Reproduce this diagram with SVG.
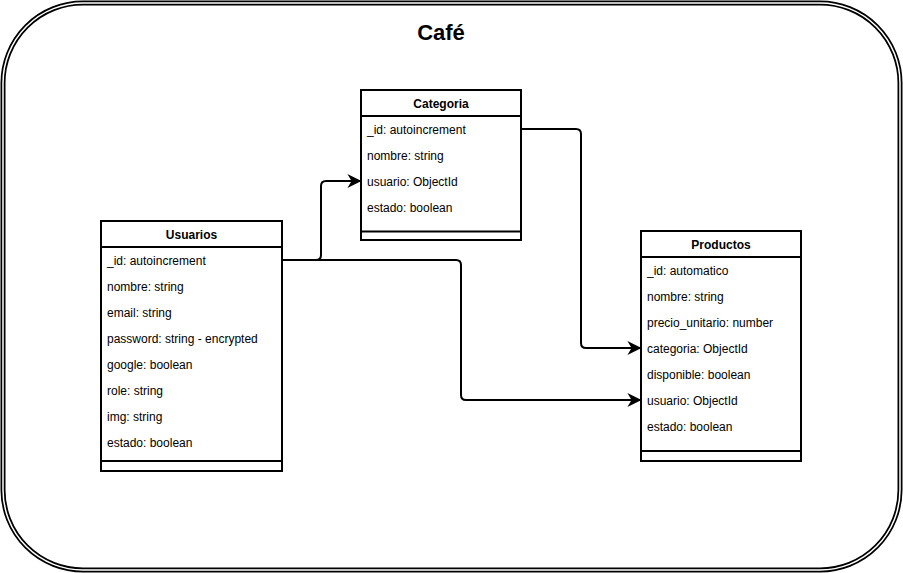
<svg xmlns="http://www.w3.org/2000/svg" width="903" height="573" viewBox="0 0 903 573">
<style>
.box{fill:#fff;stroke:#000;stroke-width:2}
.ln{stroke:#000;stroke-width:2;fill:none}
.hd{font-family:"Liberation Sans",Arial,sans-serif;font-size:12px;font-weight:bold;fill:#000;text-anchor:middle}
.fd{font-family:"Liberation Sans",Arial,sans-serif;font-size:12px;fill:#000}
.cn{stroke:#000;stroke-width:2;fill:none;marker-end:url(#arr)}
</style>
<defs>
<marker id="arr" viewBox="0 0 10 10" refX="9" refY="5" markerWidth="7" markerHeight="7" markerUnits="strokeWidth" orient="auto">
<path d="M0,0 L10,5 L0,10 L3,5 Z" fill="#000"/>
</marker>
</defs>
<rect width="903" height="573" fill="#fff"/>
<g id="frame">
<rect x="3" y="3" width="897" height="567" rx="80" ry="80" fill="none" stroke="#000" stroke-width="5"/>
<rect x="3" y="3" width="897" height="567" rx="80" ry="80" fill="none" stroke="#fff" stroke-width="1.5"/>
<text x="441" y="40" font-family="Liberation Sans,Arial,sans-serif" font-size="22" font-weight="bold" text-anchor="middle">Café</text>
</g>
<g id="connectors">
<path class="cn" d="M282,260 H316 Q321,260 321,255 V186 Q321,181 326,181 H360"/>
<path class="cn" d="M282,260 H456 Q461,260 461,265 V395 Q461,400 466,400 H640"/>
<path class="cn" d="M521,129 H576 Q581,129 581,134 V343 Q581,348 586,348 H640"/>
</g>
<g id="categoria">
<rect class="box" x="361" y="90" width="160" height="150"/>
<line class="ln" x1="361" y1="116" x2="521" y2="116"/>
<line class="ln" x1="361" y1="231.5" x2="521" y2="231.5"/>
<text class="hd" x="441" y="107.5">Categoria</text>
<text class="fd" x="367" y="133.5">_id: autoincrement</text>
<text class="fd" x="367" y="159.5">nombre: string</text>
<text class="fd" x="367" y="185.5">usuario: ObjectId</text>
<text class="fd" x="367" y="211.5">estado: boolean</text>
</g>
<g id="usuarios">
<rect class="box" x="101" y="221" width="181" height="250"/>
<line class="ln" x1="101" y1="247" x2="282" y2="247"/>
<line class="ln" x1="101" y1="461" x2="282" y2="461"/>
<text class="hd" x="191.5" y="238.5">Usuarios</text>
<text class="fd" x="107" y="264.5">_id: autoincrement</text>
<text class="fd" x="107" y="290.5">nombre: string</text>
<text class="fd" x="107" y="316.5">email: string</text>
<text class="fd" x="107" y="342.5">password: string - encrypted</text>
<text class="fd" x="107" y="368.5">google: boolean</text>
<text class="fd" x="107" y="394.5">role: string</text>
<text class="fd" x="107" y="420.5">img: string</text>
<text class="fd" x="107" y="446.5">estado: boolean</text>
</g>
<g id="productos">
<rect class="box" x="641" y="231" width="160" height="230"/>
<line class="ln" x1="641" y1="257" x2="801" y2="257"/>
<line class="ln" x1="641" y1="451" x2="801" y2="451"/>
<text class="hd" x="721" y="248.5">Productos</text>
<text class="fd" x="647" y="274.5">_id: automatico</text>
<text class="fd" x="647" y="300.5">nombre: string</text>
<text class="fd" x="647" y="326.5">precio_unitario: number</text>
<text class="fd" x="647" y="352.5">categoria: ObjectId</text>
<text class="fd" x="647" y="378.5">disponible: boolean</text>
<text class="fd" x="647" y="404.5">usuario: ObjectId</text>
<text class="fd" x="647" y="430.5">estado: boolean</text>
</g>
</svg>
